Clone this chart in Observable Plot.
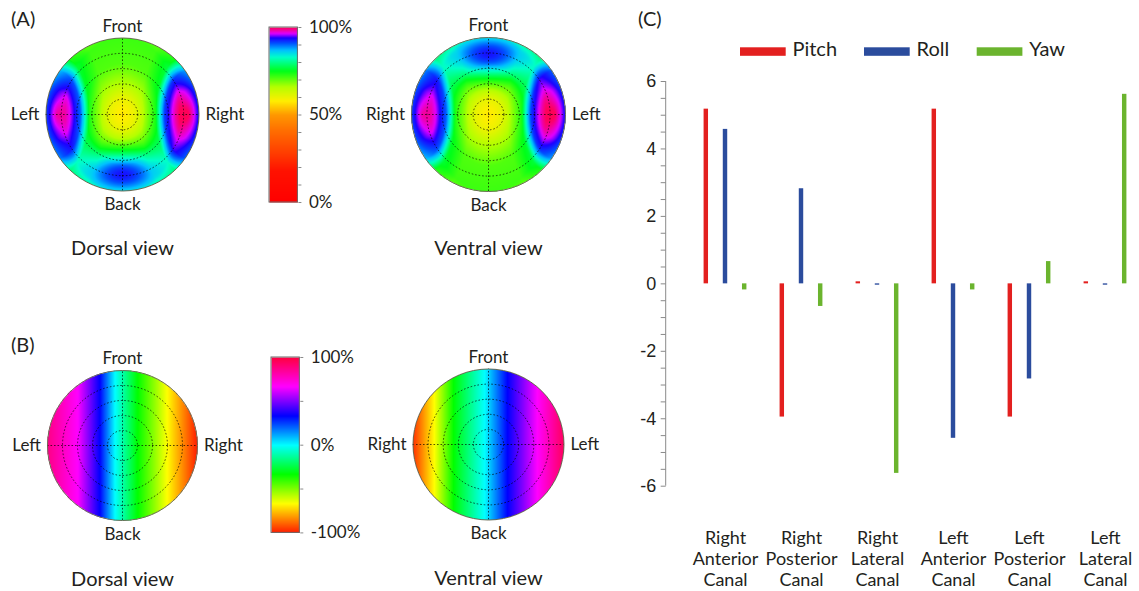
<!DOCTYPE html>
<html><head><meta charset="utf-8">
<script src="https://cdn.jsdelivr.net/npm/d3@7"></script>
<script src="https://cdn.jsdelivr.net/npm/@observablehq/plot@0.6"></script>
<style>
html,body{margin:0;padding:0;background:#fff;overflow:hidden;}
#root{position:relative;width:1139px;height:591px;overflow:hidden;font-family:Lato,sans-serif;color:#231f20;background:#fff;}
#root svg{position:absolute;}
[aria-label="y-axis tick"]{stroke:#8a8a8a;}
</style></head><body><div id="root"></div>
<script>
// ---------------- Panel C data ----------------
const canals = ["Right Anterior Canal","Right Posterior Canal","Right Lateral Canal","Left Anterior Canal","Left Posterior Canal","Left Lateral Canal"];
const canalLabels = ["Right\nAnterior\nCanal","Right\nPosterior\nCanal","Right\nLateral\nCanal","Left\nAnterior\nCanal","Left\nPosterior\nCanal","Left\nLateral\nCanal"];
const seriesNames = ["Pitch","Roll","Yaw"];
const pitch = [5.18, -3.95, 0.06, 5.18, -3.95, 0.06];
const roll  = [4.58, 2.82, -0.04, -4.58, -2.82, -0.04];
const yaw   = [-0.18, -0.67, -5.62, -0.18, 0.66, 5.62];
const seriesColors = ["#e3201f","#2b4c9d","#6bb42e"];
const yTickValues = [-6,-5.5,-5,-4.5,-4,-3.5,-3,-2.5,-2,-1.5,-1,-0.5,0,0.5,1,1.5,2,2.5,3,3.5,4,4.5,5,5.5,6];
const yLabelledTicks = [-6,-4,-2,0,2,4,6];

// ---------------- Panel A (magnitude map, 0..1) ----------------
const magStops  = [0, 0.18, 0.28, 0.41, 0.5, 0.58, 0.66, 0.75, 0.83, 0.87, 0.91, 0.94, 0.965, 1];
const magColors = ["#ff0000","#ff1200","#ff3c00","#ff6e00","#ff9800","#ffee00","#b4ff00","#00ff18","#00ffc8","#00c0ff","#0050ff","#1c00ff","#e000ff","#ff0058"];
const magTicks = [0,0.1,0.2,0.3,0.4,0.5,0.6,0.7,0.8,0.9,1];
const magLabelled = [0,0.5,1];
// background: distance from centre -> value
const baseR   = [0, 0.15, 0.3, 0.5, 0.75, 1];
const baseVal = [0.57, 0.60, 0.66, 0.71, 0.72, 0.66];
// side lobes: rise above background vs. distance from lobe centre
const lobeDist = [0, 0.06, 0.17, 0.31, 0.36, 0.43, 0.62];
const lobeRise = [0.31, 0.295, 0.265, 0.205, 0.145, 0.045, 0];
const sideLobeX = [-0.86, 0.86];
const sideLobeScale = [0.94, 1.0];
const sideLobeStretchY = 1.85;
// front/back lobe (Gaussian)
const dorsalMidLobeY = -0.78;   // towards Back
const ventralMidLobeY = 0.78;   // towards Front
const midLobeAmp = 0.22, midLobeSx = 0.43, midLobeSy = 0.22;

// ---------------- Panel B (signed map, -1..1) ----------------
const signStops  = [-1, -0.667, -0.333, 0, 0.333, 0.667, 1];
const signColors = ["#ff1a00","#ffff00","#00ff00","#00ffff","#0000ff","#ff00ff","#ff0040"];
const signTicks = [-1,-0.5,0,0.5,1];
const signLabelled = [-1,0,1];
const dorsalSignU = [-1, -0.6, -0.3, -0.1, 0.2, 0.6, 1];
const dorsalSignV = [0.88, 0.67, 0.33, 0, -0.33, -0.67, -1];
const ventralSignU = [-1, -0.72, -0.46, -0.05, 0.25, 0.65, 1];
const ventralSignV = [-0.97, -0.67, -0.33, 0, 0.33, 0.67, 0.95];

const ringFractions = [0.2, 0.4, 0.6, 0.8];

// ------------------------------------------------
const root = document.getElementById("root");
const place = (el, left, top) => { el.style.left = left + "px"; el.style.top = top + "px"; root.appendChild(el); };
const lin = (xs, ys) => d3.scaleLinear().domain(xs).range(ys).clamp(true);

function magField(midY) {
  const base = lin(baseR, baseVal);
  const rise = lin(lobeDist, lobeRise);
  return (x, y) => {
    let v = base(Math.sqrt(x * x + (y * 0.75) ** 2));
    for (let i = 0; i < sideLobeX.length; ++i) {
      const d = Math.hypot(x - sideLobeX[i], y / sideLobeStretchY);
      v += sideLobeScale[i] * rise(d);
    }
    const gx = x / midLobeSx, gy = (y - midY) / midLobeSy;
    v += midLobeAmp * Math.exp(-(gx * gx + gy * gy) / 2);
    return Math.min(1, v);
  };
}
function signField(us, vs) { const f = lin(us, vs); return (x, y) => f(x); }

function disc({cx, cy, R, field, domain, range, names, view}) {
  const W = 270, H = 290, ox = 135, oy = 125;
  const g = 6.5;
  const el = Plot.plot({
    width: W, height: H, margin: 0,
    style: {background: "transparent", overflow: "visible", fontFamily: "Lato, sans-serif", fontSize: "17px", color: "#231f20"},
    x: {domain: [-1, 1], range: [ox - R, ox + R], axis: null},
    y: {domain: [-1, 1], range: [oy + R, oy - R], axis: null},
    r: {type: "identity"},
    color: {type: "linear", domain, range, interpolate: "rgb"},
    marks: [
      Plot.raster({x1: -1, x2: 1, y1: -1, y2: 1,
        fill: (x, y) => (x * x + y * y <= 1.0 ? field(x, y) : NaN)}),
      Plot.dot(ringFractions, {x: () => 0, y: () => 0, r: d => d * R, fill: "none", stroke: "#000", strokeWidth: 0.9, strokeOpacity: 0.75, strokeDasharray: "1.6,1.9"}),
      Plot.ruleX([0], {y1: -1, y2: 1, stroke: "#000", strokeWidth: 0.9, strokeOpacity: 0.75, strokeDasharray: "1.6,1.9"}),
      Plot.ruleY([0], {x1: -1, x2: 1, stroke: "#000", strokeWidth: 0.9, strokeOpacity: 0.75, strokeDasharray: "1.6,1.9"}),
      Plot.dot([1], {x: () => 0, y: () => 0, r: d => d * R, fill: "none", stroke: "#6b6b55", strokeWidth: 1}),
      Plot.text([names[0]], {x: () => 0, y: () => 1, text: d => d, lineAnchor: "bottom", dy: -g}),
      Plot.text([names[1]], {x: () => 0, y: () => -1, text: d => d, lineAnchor: "bottom", dy: 19}),
      Plot.text([names[2]], {x: () => -1, y: () => 0, text: d => d, lineAnchor: "bottom", textAnchor: "end", dx: -g, dy: 5.5}),
      Plot.text([names[3]], {x: () => 1, y: () => 0, text: d => d, lineAnchor: "bottom", textAnchor: "start", dx: g, dy: 5.5}),
      Plot.text([view], {x: () => 0, y: () => -1, text: d => d, lineAnchor: "bottom", dy: 140 - R, fontSize: 20})
    ]
  });
  place(el, cx - ox, cy - oy);
}

function colorbar({left, top, bottom, w, domain, range, ticks, labelled}) {
  const pad = 20, W = 100;
  const el = Plot.plot({
    width: W, height: bottom - top + 2 * pad, marginLeft: 0, marginRight: W - w, marginTop: pad, marginBottom: pad,
    style: {background: "transparent", overflow: "visible", fontFamily: "Lato, sans-serif", fontSize: "17px", color: "#231f20"},
    x: {domain: [0, 1], axis: null},
    y: {domain: [domain[0], domain[domain.length - 1]], axis: "right", ticks, tickSize: 3, tickPadding: 8, label: null,
        tickFormat: d => labelled.some(t => Math.abs(t - d) < 1e-9) ? Math.round(d * 100) + "%" : ""},
    color: {type: "linear", domain, range, interpolate: "rgb"},
    marks: [
      Plot.raster({x1: 0, x2: 1, y1: domain[0], y2: domain[domain.length - 1], fill: (x, y) => y}),
      Plot.rect([0], {x1: () => 0, x2: () => 1, y1: () => domain[0], y2: () => domain[domain.length - 1], fill: "none", stroke: "#6a6a6a", strokeWidth: 1})
    ]
  });
  place(el, left, top - pad);
}

// Panel A
disc({cx: 121.7, cy: 114.3, R: 76.5, field: magField(dorsalMidLobeY), domain: magStops, range: magColors, names: ["Front","Back","Left","Right"], view: "Dorsal view"});
disc({cx: 488.3, cy: 114.3, R: 77, field: magField(ventralMidLobeY), domain: magStops, range: magColors, names: ["Front","Back","Right","Left"], view: "Ventral view"});
colorbar({left: 269.3, top: 26.7, bottom: 201.7, w: 28.4, domain: magStops, range: magColors, ticks: magTicks, labelled: magLabelled});
// Panel B
disc({cx: 121.7, cy: 445, R: 75, field: signField(dorsalSignU, dorsalSignV), domain: signStops, range: signColors, names: ["Front","Back","Left","Right"], view: "Dorsal view"});
disc({cx: 488, cy: 444, R: 75.5, field: signField(ventralSignU, ventralSignV), domain: signStops, range: signColors, names: ["Front","Back","Right","Left"], view: "Ventral view"});
colorbar({left: 270.7, top: 357.3, bottom: 532.7, w: 28.3, domain: signStops, range: signColors, ticks: signTicks, labelled: signLabelled});

// Panel C
const barData = canals.flatMap((c, i) => seriesNames.map((s, j) => ({canal: c, series: s, value: [pitch, roll, yaw][j][i]})));
const xRange = [64.7, 525.3];
const step = (xRange[1] - xRange[0]) / canals.length;
const barW = 5.2;
const inset = (step - barW) / 2;
const axisLine = (index, scales, values, dims) => {
  const l = document.createElementNS("http://www.w3.org/2000/svg", "line");
  l.setAttribute("x1", dims.marginLeft); l.setAttribute("x2", dims.marginLeft);
  l.setAttribute("y1", scales.y(6)); l.setAttribute("y2", scales.y(-6));
  l.setAttribute("stroke", "#8a8a8a"); l.setAttribute("stroke-width", 1);
  return l;
};
const chartC = Plot.plot({
  width: 526, height: 591, marginTop: 81, marginBottom: 105.3, marginLeft: 45.7, marginRight: 0,
  style: {background: "transparent", overflow: "visible", fontFamily: "'Liberation Sans', Arial, sans-serif", fontSize: "18px", color: "#231f20"},
  x: {domain: canals, range: xRange, padding: 0, axis: null},
  y: {domain: [-6, 6], ticks: yTickValues, tickSize: 5, tickPadding: 5, label: null,
      tickFormat: d => yLabelledTicks.includes(d) ? String(d) : ""},
  marks: [
    ...seriesNames.map((s, j) => Plot.barY(barData.filter(d => d.series === s), {
      x: "canal", y: "value", fill: seriesColors[j], insetLeft: inset, insetRight: inset, dx: (j - 1) * step / 4})),
    axisLine,
    Plot.text(canals, {x: d => d, text: (d, i) => canalLabels[i], frameAnchor: "bottom", lineAnchor: "top", dy: 43.2, lineHeight: 1.167, fontSize: 18, fontFamily: "Lato, sans-serif"})
  ]
});
place(chartC, 620, 0);

// Panel letters and legend
const ns = "http://www.w3.org/2000/svg";
const over = document.createElementNS(ns, "svg");
over.setAttribute("width", 1139); over.setAttribute("height", 591);
over.style.pointerEvents = "none";
function txt(s, x, y, size) {
  const t = document.createElementNS(ns, "text");
  t.setAttribute("x", x); t.setAttribute("y", y); t.setAttribute("font-size", size);
  t.setAttribute("font-family", "Lato, sans-serif"); t.setAttribute("fill", "#231f20");
  t.textContent = s; over.appendChild(t);
}
txt("(A)", 11, 26, 20); txt("(B)", 11, 352, 20); txt("(C)", 638, 26, 20);
const legendX = [740, 864, 976.7];
seriesNames.forEach((s, j) => {
  const r = document.createElementNS(ns, "rect");
  r.setAttribute("x", legendX[j]); r.setAttribute("y", 47.3); r.setAttribute("width", 45.7); r.setAttribute("height", 8.5);
  r.setAttribute("fill", seriesColors[j]); over.appendChild(r);
  txt(s, legendX[j] + 52.5, 56, 20);
});
place(over, 0, 0);
</script></body></html>
